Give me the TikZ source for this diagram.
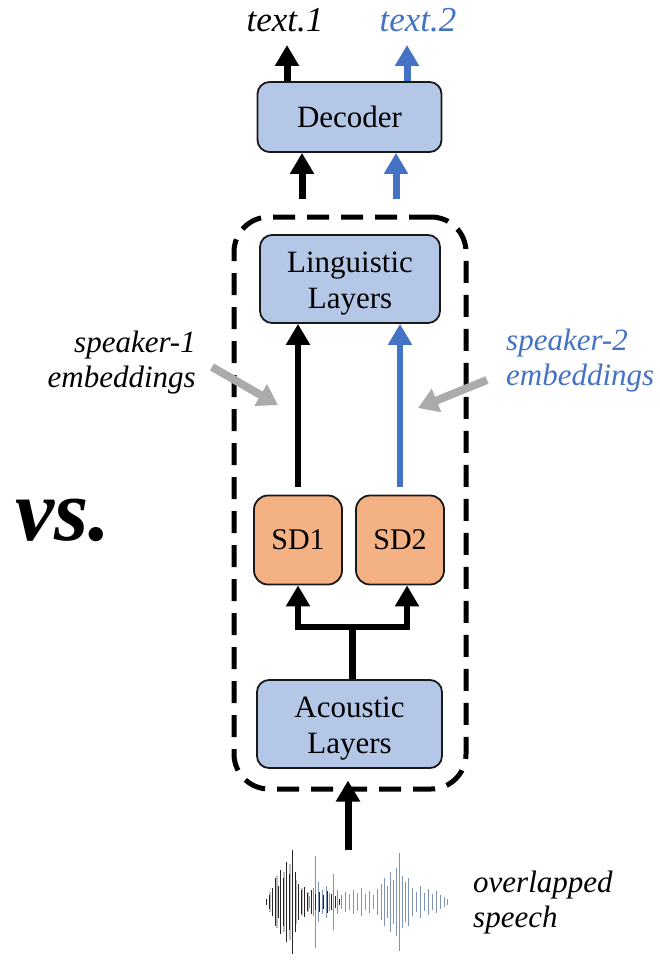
\documentclass[tikz,border=0pt]{standalone}
\usepackage{fontspec}
\setmainfont{Liberation Serif}
\usetikzlibrary{arrows.meta}

\definecolor{boxblue}{HTML}{B4C7E7}
\definecolor{boxorange}{HTML}{F4B183}
\definecolor{spkblue}{HTML}{4472C4}
\definecolor{embgray}{HTML}{ABABAB}
\definecolor{wavedark}{HTML}{262626}
\definecolor{wavelight}{HTML}{BDBDBD}
\definecolor{waveblue}{HTML}{7F93B8}

\tikzset{
  layerbox/.style={draw=black!90, line width=1.8pt, rounded corners=12pt,
    fill=boxblue, align=center, inner sep=0pt,
    font=\fontsize{31}{36}\selectfont},
  sdbox/.style={draw=black!90, line width=1.8pt, rounded corners=14pt,
    fill=boxorange, align=center, inner sep=0pt,
    minimum width=88pt, minimum height=89pt,
    font=\fontsize{30}{36}\selectfont},
  framebox/.style={draw, dash pattern=on 22pt off 12pt,
    line width=5pt, rounded corners=35pt, inner sep=0pt,
    minimum width=232pt, minimum height=572pt},
  flow/.style={line width=7pt, -{Triangle[width=23pt,length=21pt]}},
  flowline/.style={line width=7pt},
  embarrow/.style={line width=8pt, embgray, -{Triangle[width=24pt,length=20pt]}},
  sidetext/.style={font=\fontsize{31}{35}\selectfont\itshape, inner sep=0pt},
  outtext/.style={font=\fontsize{35}{40}\selectfont\itshape, inner sep=0pt},
  wavestroke/.style={line width=1pt},
}
% pushes the first line of a two-line box label a little lower
\newcommand{\lowerstrut}{\rule{0pt}{29pt}}

\begin{document}
\begin{tikzpicture}[x=1pt,y=-1pt]
\useasboundingbox (0,0) rectangle (659,960);

% ---------- blocks ----------
\node[framebox] (frame) at (350,503) {};
\node[layerbox, minimum width=184pt, minimum height=70pt] (dec) at (349.5,117) {Decoder};
\node[layerbox, minimum width=180pt, minimum height=88pt] (ling) at (350,279) {\lowerstrut Linguistic\\Layers};
\node[sdbox] (sd1) at (298,540) {SD1};
\node[sdbox] (sd2) at (400,540) {SD2};
\node[layerbox, minimum width=185pt, minimum height=88pt] (ac) at (349.5,724) {\lowerstrut Acoustic\\Layers};

% ---------- outputs ----------
\node[outtext, anchor=base] (t1) at (285,32) {text.1};
\node[outtext, anchor=base, text=spkblue] (t2) at (418,32) {text.2};
\coordinate (o1) at (287,45);
\coordinate (o2) at (407,45);
\draw[flow] (dec.north -| o1) -- (o1);
\draw[flow, spkblue] (dec.north -| o2) -- (o2);

% ---------- frame to decoder ----------
\coordinate (s1) at (302,199);
\coordinate (s2) at (396,199);
\draw[flow] (s1) -- (dec.south -| s1);
\draw[flow, spkblue] (s2) -- (dec.south -| s2);

% ---------- speaker streams ----------
\draw[flow, shorten <=8pt, line width=6pt] (sd1.north) -- (ling.south -| sd1.north);
\draw[flow, spkblue, shorten <=8pt, line width=6pt] (sd2.north) -- (ling.south -| sd2.north);

% ---------- fork from acoustic layers ----------
\coordinate (j) at (352,627);
\coordinate (fr) at (407,627);
\draw[flowline] (ac.north -| j) -- (j);
\draw[flow, line width=6pt] (j) -| (sd1.south);
\draw[flow, line width=6pt] (j) -| (sd2.south -| fr);

% ---------- input ----------
\coordinate (w) at (348,850);
\draw[flow] (w) -- ([yshift=11pt]frame.south -| w);

% ---------- embeddings ----------
\node[sidetext, align=right, anchor=east] (e1) at (196,363) {speaker-1\\embeddings};
\node[sidetext, align=left, anchor=west, text=spkblue] (e2) at (506,361) {speaker-2\\embeddings};
\coordinate (g1s) at (212,367);
\coordinate (g1e) at (278,405);
\coordinate (g2s) at (487,380);
\coordinate (g2e) at (418,408);
\draw[embarrow] (g1s) -- (g1e);
\draw[embarrow] (g2s) -- (g2e);

% ---------- vs. ----------
\node[font=\fontsize{88}{90}\selectfont\bfseries\itshape, anchor=base west, inner sep=0pt] (vs) at (15,540) {vs.};

% ---------- waveform of the overlapped speech ----------
\foreach \x/\a in {270/10,277/26,284/30,290/38,296/22,302/14,308/10}
  \draw[line width=2pt, wavelight] (\x,902-\a) -- (\x,902+\a);
\foreach \x/\a in {309/6,313/14,315/46,318/20,322/12,326/16,329/9,333/28,337/12,
  341/7,345/10,349/8,353/12,357/9,361/14,365/8,369/11,373/7,377/13,381/18,
  384/24,387/16,390/30,393/22,396/34,399/49,402/26,405/20,408/24,412/14,
  416/10,420/16,424/9,428/13,432/8,436/11,440/7,444/5,447/3}
  \draw[wavestroke, waveblue] (\x,902-\a) -- (\x,902+\a);
\foreach \x/\a in {266/3,269/7,272/14,275/24,278/16,280/32,283/24,286/40,289/28,
  292/52,295/30,298/18,301/12,304/15,307/9,311/12,315/8,319/10,323/7,327/11,
  331/8,335/6,339/3}
  \draw[wavestroke, wavedark] (\x,902-\a) -- (\x,902+\a);
\node[sidetext, align=left, anchor=west] (ov) at (473,903) {overlapped\\speech};

\end{tikzpicture}
\end{document}
